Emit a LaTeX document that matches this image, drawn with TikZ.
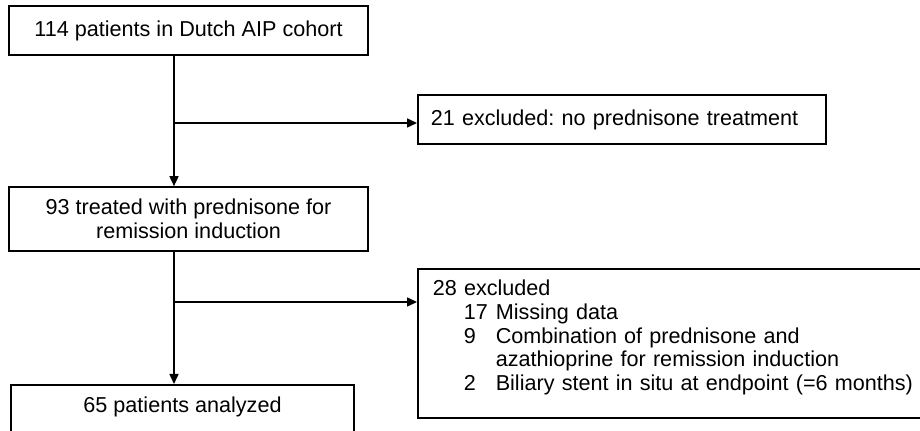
\documentclass[tikz,border=0pt]{standalone}
\usepackage{fontspec}
\setmainfont{Liberation Sans}
\usetikzlibrary{arrows.meta}
\frenchspacing
\begin{document}
\begin{tikzpicture}[x=0.5pt, y=-0.5pt,
  box/.style={draw, line width=0.8pt, inner sep=0pt, font=\fontsize{10.8}{11.9}\selectfont},
  link/.style={line width=0.8pt, -{Triangle[length=5pt, width=4.5pt]}}]
 \useasboundingbox (0,0) rectangle (920,431);

 \node[box, minimum width=179.5pt, minimum height=24.5pt] (cohort) at (188.5,30.5) {114 patients in Dutch AIP cohort};
 \node[box, anchor=west, inner xsep=6.5pt, text width=191pt, minimum height=24.5pt, align=left] (noPred) at (417,119.5) {21 excluded: no prednisone treatment};
 \node[box, minimum width=179.5pt, minimum height=32pt, align=center] (treated) at (188.5,219) {93 treated with prednisone for\\remission induction};
 \node[box, anchor=north west, inner xsep=7.5pt, text width=241.5pt, minimum height=74.5pt, align=left] (excl) at (417,268) {\noindent\begin{tabular}{@{}p{15.5pt}@{}p{16pt}@{}l@{}}
  \multicolumn{3}{@{}l@{}}{28 excluded}\\
  & 17 & Missing data\\
  & 9 & Combination of prednisone and\\
  & & azathioprine for remission induction\\
  & 2 & Biliary stent in situ at endpoint (=6 months)\\[5pt]
 \end{tabular}};
 \node[box, anchor=north, minimum width=171.5pt, inner ysep=6pt, text height=8pt, text depth=14pt] (analyzed) at (182.5,384) {65 patients analyzed};

 \coordinate (split1) at (174,123);
 \coordinate (split2) at (174,302);
 \draw[link] (cohort.south -| split1) -- (treated.north -| split1);
 \draw[link] (split1) -- (split1 -| noPred.west);
 \draw[link] (treated.south -| split2) -- (analyzed.north -| split2);
 \draw[link] (split2) -- (split2 -| excl.west);
\end{tikzpicture}
\end{document}
